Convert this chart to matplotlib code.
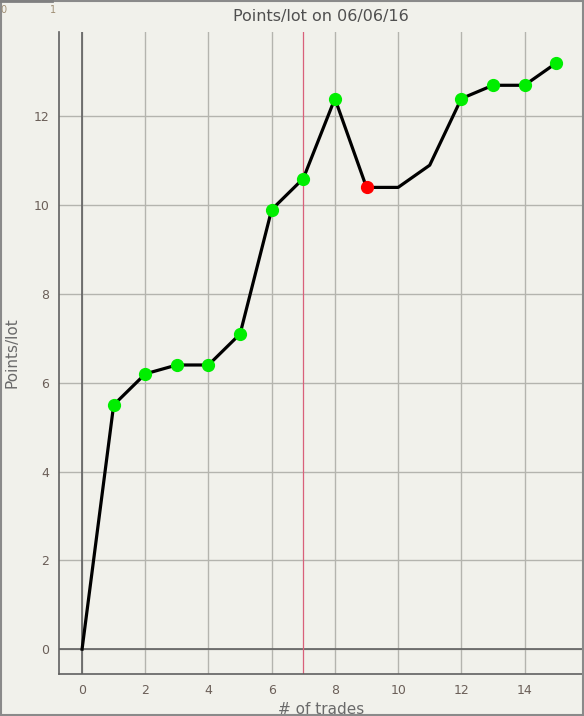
import matplotlib
matplotlib.use('Agg')
import matplotlib.pyplot as plt
from matplotlib.patches import Rectangle

# data
trades = [0, 1, 2, 3, 4, 5, 6, 7, 8, 9, 10, 11, 12, 13, 14, 15]
points = [0, 5.5, 6.2, 6.4, 6.4, 7.1, 9.9, 10.6, 12.4, 10.4, 10.4, 10.9, 12.4, 12.7, 12.7, 13.2]
win_x = [1, 2, 3, 4, 5, 6, 7, 8, 12, 13, 14, 15]
loss_x = [9]
x_ticks = [0, 2, 4, 6, 8, 10, 12, 14]
y_ticks = [0, 2, 4, 6, 8, 10, 12]
marker_line = 7

bg = '#f1f1eb'
tick_col = '#6b5f58'

fig = plt.figure(figsize=(5.84, 7.16), dpi=100, facecolor=bg)
ax = fig.add_axes([59 / 584, 1 - 674 / 716, 524 / 584, 642 / 716])
ax.set_facecolor(bg)

ax.set_xlim(-0.73, 15.85)
ax.set_ylim(-0.56, 13.9)

ax.set_xticks(x_ticks)
ax.set_yticks(y_ticks)
ax.grid(True, color='#b4b4ae', linewidth=1)
ax.set_axisbelow(True)
ax.tick_params(length=0, labelsize=9, colors=tick_col, pad=7)

ax.axhline(0, color='#606060', linewidth=1.2, zorder=1)
ax.axvline(0, color='#606060', linewidth=1.2, zorder=1)
ax.axvline(marker_line, color='#d9607a', linewidth=0.9, zorder=1)

for s in ['top', 'right']:
    ax.spines[s].set_visible(False)
for s in ['left', 'bottom']:
    ax.spines[s].set_color('#606060')
    ax.spines[s].set_linewidth(1.2)

ax.plot(trades, points, color='black', linewidth=2.3, zorder=3)
ax.plot(win_x, [points[trades.index(x)] for x in win_x], 'o', color='#00ee00',
        markersize=8.5, zorder=4)
ax.plot(loss_x, [points[trades.index(x)] for x in loss_x], 'o', color='#ff0000',
        markersize=8.5, zorder=4)

ax.set_title('Points/lot on 06/06/16', fontsize=11.5, color='#505050', pad=8)
ax.set_xlabel('# of trades', fontsize=11, color='#6a6a6a', labelpad=4)
ax.set_ylabel('Points/lot', fontsize=11, color='#6a6a6a', labelpad=10)

# stray labels top-left and frame
fig.text(0.0, 1 - 10 / 716, '0', fontsize=7, color='#a08f75', va='center', ha='left')
fig.text(50 / 584, 1 - 10 / 716, '1', fontsize=7, color='#a08f75', va='center', ha='left')
fig.patches.append(Rectangle((0.0015, 0.0015), 0.997, 0.997, transform=fig.transFigure,
                             fill=False, edgecolor='#8a8a8a', linewidth=1.5))
fig.lines.append(plt.Line2D([0, 52 / 584], [0.998, 0.998], transform=fig.transFigure,
                            color='#808080', linewidth=2))

fig.savefig('out.png', dpi=100, facecolor=bg)
